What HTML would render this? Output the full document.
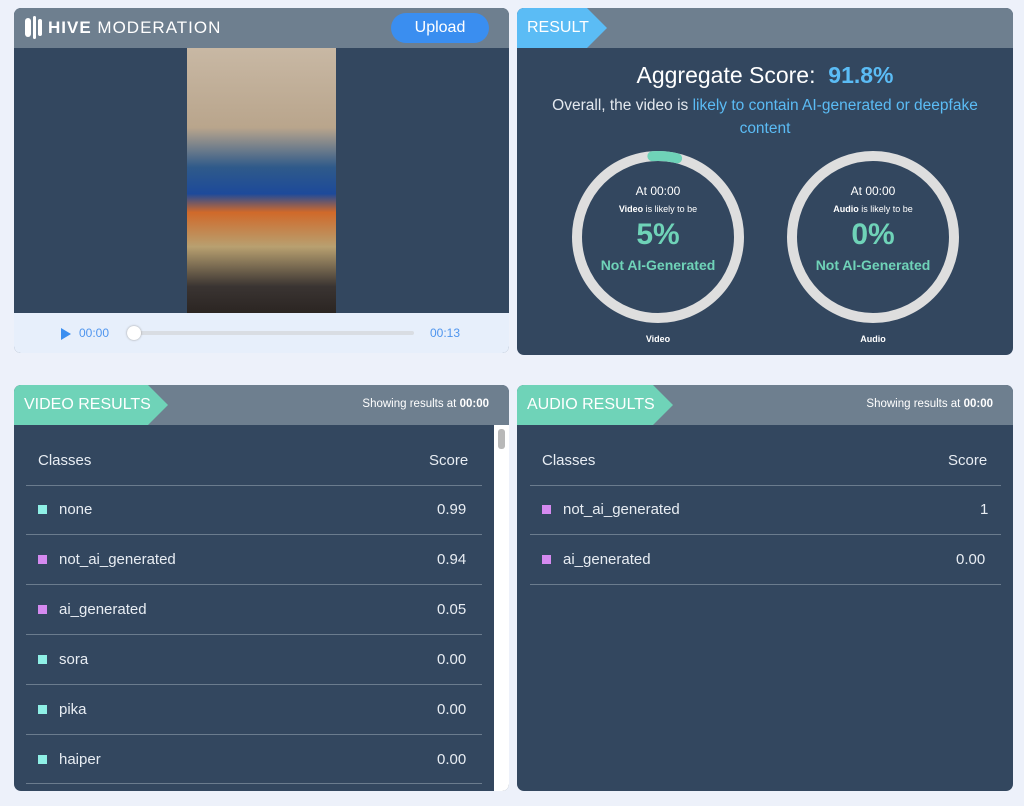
<!DOCTYPE html>
<html><head><meta charset="utf-8"><style>
*{margin:0;padding:0;box-sizing:border-box}
body{width:1024px;height:806px;background:#edf1fa;font-family:"Liberation Sans",sans-serif;position:relative;overflow:hidden}
.a{position:absolute}
.panel{position:absolute;background:#33475f;border-radius:7px;overflow:hidden}
.hdr{position:absolute;left:0;top:0;right:0;height:40px;background:#6e7f8f}
.tag{position:absolute;left:0;top:0;height:40px;color:#fff;font-size:16px;line-height:40px;padding-left:10px;clip-path:polygon(0 0,calc(100% - 20px) 0,100% 50%,calc(100% - 20px) 100%,0 100%)}
.show{position:absolute;right:20px;top:13px;color:#fff;font-size:11.5px}
.row{position:absolute;height:1px;background:#6b7c8e}
.t{position:absolute;color:#e8edf3;font-size:15px}
.sq{position:absolute;width:9px;height:9px}
</style></head><body>
<!-- top left -->
<div class="panel" style="left:14px;top:8px;width:495px;height:345px">
 <div class="hdr" style="height:40px"></div>
 <div class="a" style="left:11px;top:10px;width:6px;height:19px;background:#fff;border-radius:3px"></div>
 <div class="a" style="left:19px;top:8px;width:3px;height:23px;background:#fff;border-radius:2px"></div>
 <div class="a" style="left:24px;top:11px;width:4px;height:17px;background:#fff;border-radius:2px"></div>
 <div class="a" style="left:34px;top:10px;color:#fff;font-size:17px;letter-spacing:1px"><b>HIVE</b> MODERATION</div>
 <div class="a" style="left:377px;top:5px;width:98px;height:30px;background:#3a8ef0;border-radius:15px;color:#fff;font-size:16px;text-align:center;line-height:30px">Upload</div>
 <div class="a" style="left:173px;top:40px;width:149px;height:265px;background:linear-gradient(180deg,#c8b8a4 0%,#b9a58c 30%,#2f5a8a 45%,#1d4a9a 55%,#d0692a 62%,#b8a070 75%,#3a3432 90%,#2b2522 100%)"></div>
 <div class="a" style="left:0;top:305px;width:495px;height:40px;background:#e7effb"></div>
 <div class="a" style="left:47px;top:320px;width:0;height:0;border-left:10px solid #3a8ef0;border-top:6px solid transparent;border-bottom:6px solid transparent"></div>
 <div class="a" style="left:65px;top:318px;color:#4f95ee;font-size:12px">00:00</div>
 <div class="a" style="left:120px;top:323px;width:280px;height:4px;background:#d9dde3;border-radius:2px"></div>
 <div class="a" style="left:113px;top:318px;width:14px;height:14px;background:#fff;border-radius:50%;box-shadow:0 0 2px #999"></div>
 <div class="a" style="left:416px;top:318px;color:#4f95ee;font-size:12px">00:13</div>
</div>
<!-- top right -->
<div class="panel" style="left:517px;top:8px;width:496px;height:347px">
 <div class="hdr"></div>
 <div class="tag" style="width:90px;background:#5bbcf5">RESULT</div>
 <div class="a" style="left:0;width:496px;top:54px;text-align:center;color:#fff;font-size:23px">Aggregate Score:&nbsp; <span style="color:#5bbcf5;font-weight:bold">91.8%</span></div>
 <div class="a" style="left:10px;width:476px;top:86px;text-align:center;color:#e4e9ef;font-size:15.5px;line-height:23px">Overall, the video is <span style="color:#5bbcf5">likely to contain AI-generated or deepfake<br>content</span></div>
 <svg class="a" style="left:0;top:0" width="496" height="347">
  <circle cx="141" cy="229" r="81" fill="none" stroke="#dedede" stroke-width="10"/>
  <circle cx="141" cy="229" r="81" fill="none" stroke="#6fd3b8" stroke-width="10" stroke-dasharray="25 600" transform="rotate(-94 141 229)" stroke-linecap="round"/>
  <circle cx="356" cy="229" r="81" fill="none" stroke="#dedede" stroke-width="10"/>
 </svg>
 <div class="a" style="left:41px;width:200px;top:176px;text-align:center;color:#fff;font-size:12px">At 00:00</div>
 <div class="a" style="left:41px;width:200px;top:196px;text-align:center;color:#fff;font-size:9px"><b>Video</b> is likely to be</div>
 <div class="a" style="left:41px;width:200px;top:210px;text-align:center;color:#6fd3b8;font-size:30px;font-weight:bold">5%</div>
 <div class="a" style="left:41px;width:200px;top:249px;text-align:center;color:#6fd3b8;font-size:14px;font-weight:bold">Not AI-Generated</div>
 <div class="a" style="left:41px;width:200px;top:326px;text-align:center;color:#fff;font-size:9px;font-weight:bold">Video</div>
 <div class="a" style="left:256px;width:200px;top:176px;text-align:center;color:#fff;font-size:12px">At 00:00</div>
 <div class="a" style="left:256px;width:200px;top:196px;text-align:center;color:#fff;font-size:9px"><b>Audio</b> is likely to be</div>
 <div class="a" style="left:256px;width:200px;top:210px;text-align:center;color:#6fd3b8;font-size:30px;font-weight:bold">0%</div>
 <div class="a" style="left:256px;width:200px;top:249px;text-align:center;color:#6fd3b8;font-size:14px;font-weight:bold">Not AI-Generated</div>
 <div class="a" style="left:256px;width:200px;top:326px;text-align:center;color:#fff;font-size:9px;font-weight:bold">Audio</div>
</div>
<!-- bottom left -->
<div class="panel" style="left:14px;top:385px;width:495px;height:406px">
 <div class="hdr"></div>
 <div class="tag" style="width:154px;background:#6fd3b8">VIDEO RESULTS</div>
 <div class="show">Showing results at <b>00:00</b></div>
 <div class="a" style="left:480px;top:40px;width:15px;height:366px;background:#fff"></div>
 <div class="a" style="left:484px;top:44px;width:7px;height:20px;background:#b8b8b8;border-radius:3px"></div>
 <div class="t" style="left:24px;top:67px">Classes</div><div class="t" style="left:415px;top:67px">Score</div>
 <div class="row" style="left:12px;width:456px;top:100px"></div>
 <div class="sq" style="left:24px;top:120px;background:#8ff0e6"></div><div class="t" style="left:45px;top:116px">none</div><div class="t" style="left:423px;top:116px">0.99</div>
 <div class="row" style="left:12px;width:456px;top:149px"></div>
 <div class="sq" style="left:24px;top:170px;background:#d58af0"></div><div class="t" style="left:45px;top:166px">not_ai_generated</div><div class="t" style="left:423px;top:166px">0.94</div>
 <div class="row" style="left:12px;width:456px;top:199px"></div>
 <div class="sq" style="left:24px;top:220px;background:#d58af0"></div><div class="t" style="left:45px;top:216px">ai_generated</div><div class="t" style="left:423px;top:216px">0.05</div>
 <div class="row" style="left:12px;width:456px;top:249px"></div>
 <div class="sq" style="left:24px;top:270px;background:#8ff0e6"></div><div class="t" style="left:45px;top:266px">sora</div><div class="t" style="left:423px;top:266px">0.00</div>
 <div class="row" style="left:12px;width:456px;top:299px"></div>
 <div class="sq" style="left:24px;top:320px;background:#8ff0e6"></div><div class="t" style="left:45px;top:316px">pika</div><div class="t" style="left:423px;top:316px">0.00</div>
 <div class="row" style="left:12px;width:456px;top:349px"></div>
 <div class="sq" style="left:24px;top:370px;background:#8ff0e6"></div><div class="t" style="left:45px;top:366px">haiper</div><div class="t" style="left:423px;top:366px">0.00</div>
 <div class="row" style="left:12px;width:456px;top:398px"></div>
</div>
<!-- bottom right -->
<div class="panel" style="left:517px;top:385px;width:496px;height:406px">
 <div class="hdr"></div>
 <div class="tag" style="width:156px;background:#6fd3b8">AUDIO RESULTS</div>
 <div class="show">Showing results at <b>00:00</b></div>
 <div class="t" style="left:25px;top:67px">Classes</div><div class="t" style="left:431px;top:67px">Score</div>
 <div class="row" style="left:13px;width:471px;top:100px"></div>
 <div class="sq" style="left:25px;top:120px;background:#d58af0"></div><div class="t" style="left:46px;top:116px">not_ai_generated</div><div class="t" style="left:463px;top:116px">1</div>
 <div class="row" style="left:13px;width:471px;top:149px"></div>
 <div class="sq" style="left:25px;top:170px;background:#d58af0"></div><div class="t" style="left:46px;top:166px">ai_generated</div><div class="t" style="left:439px;top:166px">0.00</div>
 <div class="row" style="left:13px;width:471px;top:199px"></div>
</div>
</body></html>
